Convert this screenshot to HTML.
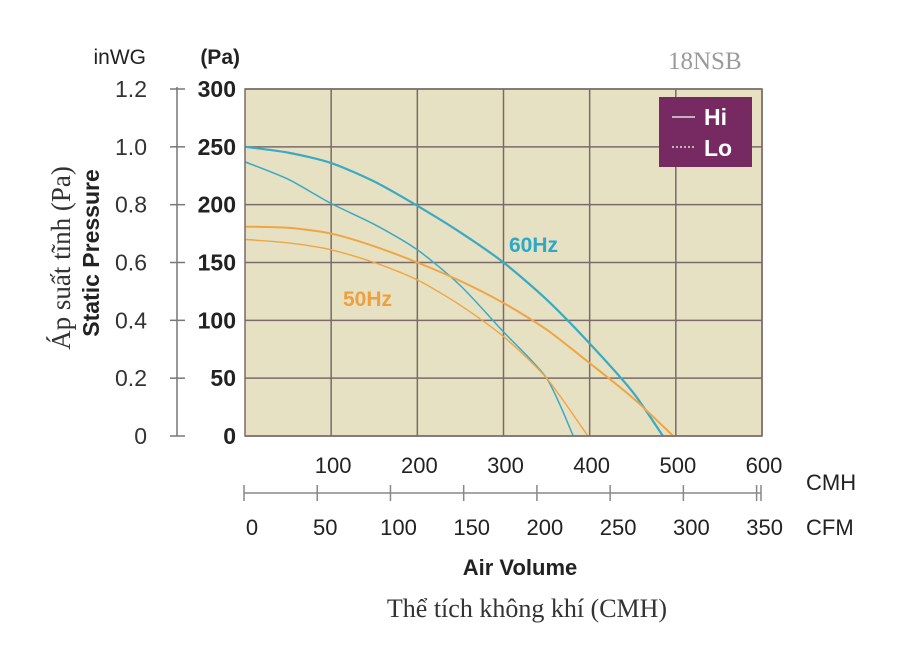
<!DOCTYPE html>
<html><head><meta charset="utf-8"><style>
body{margin:0;background:#fff;}
svg{display:block;font-family:"Liberation Sans",sans-serif;}
</style></head><body>
<svg width="900" height="647" viewBox="0 0 900 647">
<text x="668" y="69" font-family="Liberation Serif" font-size="25" fill="#9a9a9a">18NSB</text>
<rect x="245" y="89" width="517" height="347" fill="#e6e1c2"/>
<g id="grid"></g>
<g id="curves"></g>
<rect x="245" y="89" width="517" height="347" fill="none" stroke="#7a6a6a" stroke-width="1.5"/>
<g>
<rect x="659" y="97" width="93" height="70" fill="#772a62"/>
<line x1="672" y1="117" x2="695" y2="117" stroke="#ddd" stroke-width="1.5"/>
<text x="704" y="125" fill="#fff" font-size="23" font-weight="bold">Hi</text>
<line x1="672" y1="147" x2="695" y2="147" stroke="#ddd" stroke-width="1.5" stroke-dasharray="2 2"/>
<text x="704" y="156" fill="#fff" font-size="23" font-weight="bold">Lo</text>
</g>
<text x="509" y="252" fill="#2ea8c8" font-size="21" font-weight="bold">60Hz</text>
<text x="343" y="306" fill="#eea040" font-size="21" font-weight="bold">50Hz</text>
<g id="yaxis">
<line x1="177" y1="87" x2="177" y2="436" stroke="#777" stroke-width="1.5"/>
<text x="146" y="64" text-anchor="end" font-size="21" fill="#222">inWG</text>
<text x="240" y="64" text-anchor="end" font-size="21" font-weight="bold" fill="#222">(Pa)</text>
</g>
<text transform="translate(99,253) rotate(-90)" text-anchor="middle" font-size="23" font-weight="bold" fill="#222">Static Pressure</text>
<text transform="translate(70,258) rotate(-90)" text-anchor="middle" font-family="Liberation Serif" font-size="27" fill="#333">Áp suất tĩnh (Pa)</text>
<g id="xaxis">
<line x1="244" y1="493" x2="761" y2="493" stroke="#888" stroke-width="1.5"/>
<text x="806" y="490" font-size="22" fill="#222">CMH</text>
<text x="806" y="535" font-size="22" fill="#222">CFM</text>
</g>
<text x="520" y="575" text-anchor="middle" font-size="22" font-weight="bold" fill="#222">Air Volume</text>
<text x="527" y="617" text-anchor="middle" font-family="Liberation Serif" font-size="26" fill="#333">Thể tích không khí (CMH)</text>
</svg>
<script>
const cmhTicks=[100,200,300,400,500,600];
const paTicks=[0,50,100,150,200,250,300];
const inwgLabels=["0","0.2","0.4","0.6","0.8","1.0","1.2"];
const cfmTicks=[0,50,100,150,200,250,300,350];
const hi60X=[0,50,100,150,200,250,300,350,400,450,485];
const hi60Y=[250,245,236,220,199,176,150,118,80,38,0];
const lo60X=[0,50,100,150,200,250,300,350,381];
const lo60Y=[237,222,201,183,161,130,90,50,0];
const hi50X=[0,50,100,150,200,250,300,350,400,450,497];
const hi50Y=[181,180,175,164,150,134,115,92,63,33,0];
const lo50X=[0,50,100,150,200,250,300,350,398];
const lo50Y=[170,167,161,150,135,113,86,50,0];
const NS="http://www.w3.org/2000/svg";
const X0=245,X1=762,Y0=436,Y1=89;
const sx=v=>X0+v/600*(X1-X0);
const sy=v=>Y0-v/300*(Y0-Y1);
const cfmX=v=>244+v/353*(761-244);
function mk(t,a,p){const e=document.createElementNS(NS,t);for(const k in a)e.setAttribute(k,a[k]);p.appendChild(e);return e;}
const grid=document.getElementById('grid');
cmhTicks.forEach(v=>{const l=mk('line',{x1:sx(v),x2:sx(v),y1:Y1,y2:Y0,stroke:'#7a6a6a','stroke-width':1.5},grid);

});
paTicks.forEach(v=>{const l=mk('line',{x1:X0,x2:X1,y1:sy(v),y2:sy(v),stroke:'#7a6a6a','stroke-width':1.5},grid);

});
const ya=document.getElementById('yaxis');
paTicks.forEach((v,i)=>{const y=sy(v);
const tk=mk('line',{x1:170,x2:185,y1:y,y2:y,stroke:'#777','stroke-width':1.5},ya);


const t=mk('text',{x:236,y:y+8,'text-anchor':'end','font-size':23,'font-weight':'bold',fill:'#222'},ya);t.textContent=v;


const t2=mk('text',{x:147,y:y+8,'text-anchor':'end','font-size':23,fill:'#333'},ya);t2.textContent=inwgLabels[i];

});
const xa=document.getElementById('xaxis');
cmhTicks.forEach(v=>{const t=mk('text',{x:sx(v)+2,y:473,'text-anchor':'middle','font-size':22,fill:'#222'},xa);t.textContent=v;

});
cfmTicks.forEach(v=>{const x=cfmX(v);
const tk=mk('line',{x1:x,x2:x,y1:485,y2:501,stroke:'#888','stroke-width':1.5},xa);


const t=mk('text',{x:x+8,y:535,'text-anchor':'middle','font-size':22,fill:'#222'},xa);t.textContent=v;

});
const endTick=mk('line',{x1:761,x2:761,y1:485,y2:501,stroke:'#888','stroke-width':1.5},xa);


const cv=document.getElementById('curves');
function curve(xs,ys,color,w,name){
const pts=xs.map((x,i)=>[sx(x),sy(ys[i])]);
let d='M'+pts[0][0]+','+pts[0][1];
const k=8;
for(let i=0;i<pts.length-1;i++){const p0=pts[i-1]||pts[i],p1=pts[i],p2=pts[i+1],p3=pts[i+2]||p2;
d+=' C'+(p1[0]+(p2[0]-p0[0])/k)+','+(p1[1]+(p2[1]-p0[1])/k)+' '+(p2[0]-(p3[0]-p1[0])/k)+','+(p2[1]-(p3[1]-p1[1])/k)+' '+p2[0]+','+p2[1];}
const p=mk('path',{d:d,fill:'none',stroke:color,'stroke-width':w,'stroke-linejoin':'round'},cv);

}
curve(hi60X,hi60Y,'#3aa9c4',2.2,'curve-60hz-hi');
curve(lo60X,lo60Y,'#3aa9c4',1.5,'curve-60hz-lo');
curve(hi50X,hi50Y,'#f0a545',2,'curve-50hz-hi');
curve(lo50X,lo50Y,'#f0a545',1.4,'curve-50hz-lo');
</script>
</body></html>
